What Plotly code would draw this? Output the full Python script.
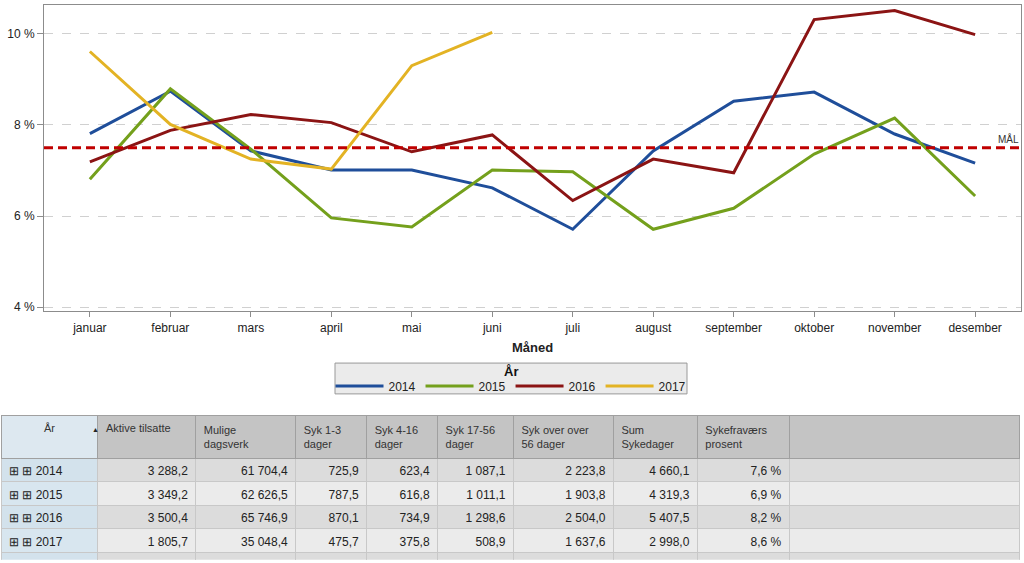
import plotly.graph_objs as go

MONTHS = ["januar", "februar", "mars", "april", "mai", "juni", "juli",
          "august", "september", "oktober", "november", "desember"]

Y2014 = [7.81, 8.74, 7.43, 7.01, 7.01, 6.62, 5.71, 7.43, 8.52, 8.72, 7.80, 7.16]
Y2015 = [6.81, 8.79, 7.47, 5.96, 5.76, 7.01, 6.97, 5.71, 6.17, 7.36, 8.15, 6.44]
Y2016 = [7.19, 7.88, 8.23, 8.05, 7.41, 7.78, 6.34, 7.25, 6.95, 10.31, 10.51, 9.98]
Y2017 = [9.61, 8.01, 7.25, 7.03, 9.30, 10.03]
MAAL = 7.5
Y_TICKS = [4, 6, 8, 10]

# table data
YEARS = ["2014", "2015", "2016", "2017"]
AKTIVE = [3288.2, 3349.2, 3500.4, 1805.7]
MULIGE = [61704.4, 62626.5, 65746.9, 35048.4]
SYK_1_3 = [725.9, 787.5, 870.1, 475.7]
SYK_4_16 = [623.4, 616.8, 734.9, 375.8]
SYK_17_56 = [1087.1, 1011.1, 1298.6, 508.9]
SYK_56 = [2223.8, 1903.8, 2504.0, 1637.6]
SUM_DAGER = [4660.1, 4319.3, 5407.5, 2998.0]
PROSENT = [7.6, 6.9, 8.2, 8.6]

HEADERS = ["År", "Aktive tilsatte", "Mulige<br>dagsverk", "Syk 1-3<br>dager",
           "Syk 4-16<br>dager", "Syk 17-56<br>dager", "Syk over over<br>56 dager",
           "Sum<br>Sykedager", "Sykefraværs<br>prosent", ""]

FONT = "Liberation Sans, Arial, sans-serif"
W, H = 1024, 563


def nor(v):
    return f"{v:,.1f}".replace(",", " ").replace(".", ",")


def px_x(x):
    return x / (W - 3)


def px_y(y):
    return (H - y) / (H - 5)


series = [
    ("2014", Y2014, "#1f4e9a"),
    ("2015", Y2015, "#74a01c"),
    ("2016", Y2016, "#8b1414"),
    ("2017", Y2017, "#e3b324"),
]

traces = []
for name, vals, color in series:
    traces.append(go.Scatter(
        x=MONTHS[:len(vals)],
        y=vals,
        name=name,
        mode="lines",
        line=dict(color=color, width=3),
        xaxis="x",
        yaxis="y",
    ))

# table
columns = [[f"⊞ ⊞ {y}" for y in YEARS] + [""]]
for col in [AKTIVE, MULIGE, SYK_1_3, SYK_4_16, SYK_17_56, SYK_56, SUM_DAGER]:
    columns.append([nor(v) for v in col] + [""])
columns.append([nor(v) + " %" for v in PROSENT] + [""])
columns.append([""] * 5)

row_fill = ["#dcdcdc", "#ebebeb", "#dcdcdc", "#ebebeb", "#dcdcdc"]
first_fill = ["#d3e2ec", "#d8e6ef", "#d3e2ec", "#d8e6ef", "#d3e2ec"]
cell_fill = [first_fill] + [row_fill] * 9

table = go.Table(
    domain=dict(x=[px_x(1), px_x(1020)], y=[0, px_y(418)]),
    columnwidth=[97, 98, 100, 71, 71, 76, 100, 84, 92, 231],
    header=dict(
        values=HEADERS,
        height=38,
        align=["center"] + ["left"] * 9,
        fill_color=["#dde8f0"] + ["#c4c4c4"] * 9,
        line_color="#a0a0a0",
        font=dict(family=FONT, size=11, color="#333333"),
    ),
    cells=dict(
        values=columns,
        height=23.5,
        align=["left"] + ["right"] * 9,
        fill_color=cell_fill,
        line_color="#c8c8c8",
        font=dict(family=FONT, size=12, color="#222222"),
    ),
)

fig = go.Figure(data=traces + [table])

fig.add_hline(y=MAAL, line=dict(color="#c00000", width=3, dash="9px,5px"))
fig.add_annotation(x=1, xref="paper", y=MAAL, yref="y", text="MÅL",
                   showarrow=False, xanchor="right", yanchor="bottom",
                   font=dict(family=FONT, size=10, color="#333333"), yshift=1)
fig.add_annotation(x=px_x(90), xref="paper", y=px_y(437), yref="paper",
                   text="▲", showarrow=False, font=dict(size=7, color="#222222"))

# legend box with title
fig.add_shape(type="rect", xref="paper", yref="paper",
              x0=px_x(335), x1=px_x(687), y0=px_y(396), y1=px_y(365),
              fillcolor="#ebebeb", line=dict(color="#999999", width=1),
              layer="below")
fig.add_annotation(x=px_x(511), xref="paper", y=px_y(373), yref="paper",
                   text="<b>År</b>", showarrow=False,
                   font=dict(family=FONT, size=13, color="#111111"))

fig.update_layout(
    width=W,
    height=H,
    margin=dict(l=0, r=3, t=5, b=0),
    paper_bgcolor="white",
    plot_bgcolor="white",
    font=dict(family=FONT, size=12, color="#222222"),
    hovermode=False,
    xaxis=dict(
        domain=[px_x(44), 1],
        type="category",
        range=[-0.57, 11.57],
        showgrid=False,
        showline=True,
        linecolor="#8c8c8c",
        mirror=True,
        ticks="outside",
        ticklen=5,
        tickcolor="#8c8c8c",
        tickfont=dict(size=12),
        title=dict(text="<b>Måned</b>", font=dict(size=13), standoff=9),
    ),
    yaxis=dict(
        domain=[px_y(313), 1],
        range=[3.91, 10.63],
        tickmode="array",
        tickvals=Y_TICKS,
        ticktext=[f"{v} %" for v in Y_TICKS],
        showgrid=True,
        gridcolor="#d0d0d0",
        griddash="dash",
        zeroline=False,
        showline=True,
        linecolor="#8c8c8c",
        mirror=True,
        ticks="outside",
        ticklen=6,
        tickcolor="#8c8c8c",
        tickfont=dict(size=12),
    ),
    showlegend=True,
    legend=dict(
        orientation="h",
        x=px_x(511),
        xanchor="center",
        y=px_y(388),
        yanchor="middle",
        bgcolor="rgba(0,0,0,0)",
        borderwidth=0,
        itemwidth=48,
        font=dict(size=12),
    ),
)

fig.write_html("out.html", config={"displayModeBar": False},
               post_script="document.body.style.margin='0';")
